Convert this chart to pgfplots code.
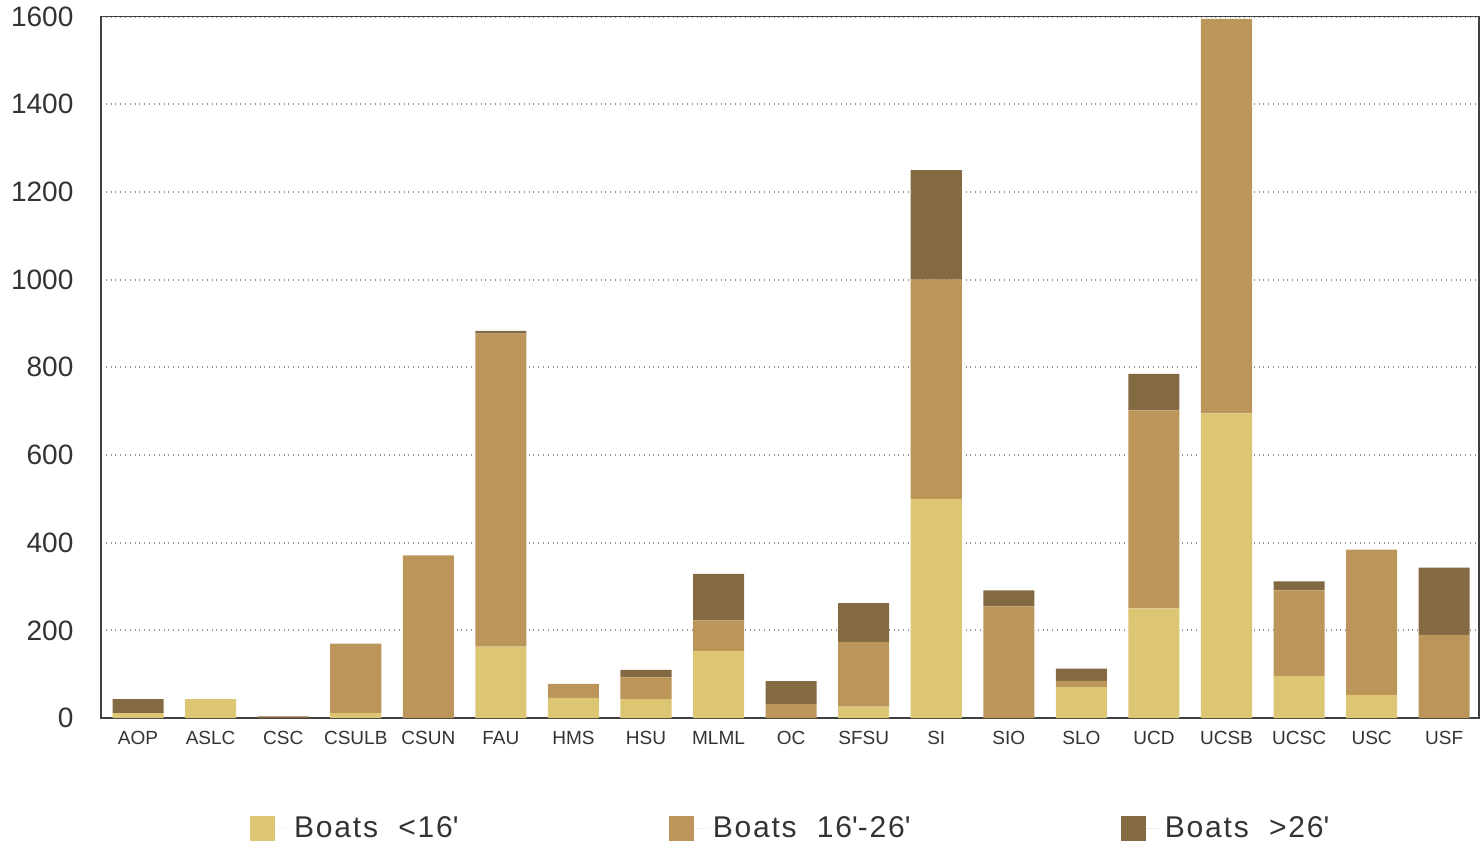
\documentclass[border=0pt]{standalone}
\usepackage{fontspec}
\setmainfont{Liberation Sans}
\usepackage{pgfplots}
\pgfplotsset{compat=1.18}
\usepackage{pgfplotstable}

\definecolor{small}{HTML}{DDC673}
\definecolor{medium}{HTML}{BC955A}
\definecolor{large}{HTML}{846A42}
\definecolor{txt}{HTML}{333333}

% x  small  medium  large
\pgfplotstableread{
x  s    m    l
0  11   0    32
1  43   0    0
2  0    0    4
3  11   159  0
4  0    371  0
5  163  714  6
6  46   32   0
7  43   50   17
8  153  70   106
9  0    32   52
10 26   148  88
11 500  500  250
12 0    255  36
13 71   14   28
14 250  452  83
15 695  900  0
16 96   195  21
17 53   331  0
18 0    190  153
}\boats

\newcommand{\ft}{\textquotesingle}

\begin{document}
\begin{tikzpicture}
\begin{axis}[
    scale only axis,
    width=688.5pt, height=350.5pt,
    ybar stacked,
    bar width=25.5pt,
    xmin=-0.51, xmax=18.48,
    ymin=0, ymax=1600,
    xtick=data,
    xticklabels={AOP,ASLC,CSC,CSULB,CSUN,FAU,HMS,HSU,MLML,OC,SFSU,SI,SIO,SLO,UCD,UCSB,UCSC,USC,USF},
    ytick={0,200,...,1600},
    major tick length=0pt,
    ymajorgrids,
    major grid style={dotted, gray!85, line width=1pt},
    axis line style={draw=black!75, line width=0.9pt},
    /pgf/number format/assume math mode=true,
    /pgf/number format/1000 sep={},
    yticklabel style={font=\fontsize{14}{16}\selectfont, text=txt, xshift=-10.3pt},
    xticklabel style={font=\fontsize{9.5}{11}\selectfont, text=txt, yshift=-3.2pt},
    legend columns=3,
    legend style={at={(0.5012,-0.158)}, anchor=center, draw=none, fill=none,
        inner sep=0pt,
        nodes={inner sep=2pt},
        font=\fontsize{15}{17}\selectfont\addfontfeature{LetterSpace=6}, text=txt,
        /tikz/every even column/.append style={column sep=103pt}},
    legend image code/.code={%
        \fill[#1] (0pt,-6.25pt) rectangle (12.5pt,6.25pt);
        \path (0pt,0pt) -- (20pt,0pt);},
    legend cell align=left,
]
\addplot[fill=small, draw=none] table[x=x, y=s] {\boats};
\addplot[fill=medium, draw=none] table[x=x, y=m] {\boats};
\addplot[fill=large, draw=none] table[x=x, y=l] {\boats};
\legend{Boats\ \ <16\ft,Boats\ \ 16\ft-26\ft,Boats\ \ >26\ft}
\end{axis}
% keep the reference's room to the left of the axis
\path ([xshift=-50.5pt]current axis.south west) -- (current axis.south west);
\end{tikzpicture}
\end{document}
